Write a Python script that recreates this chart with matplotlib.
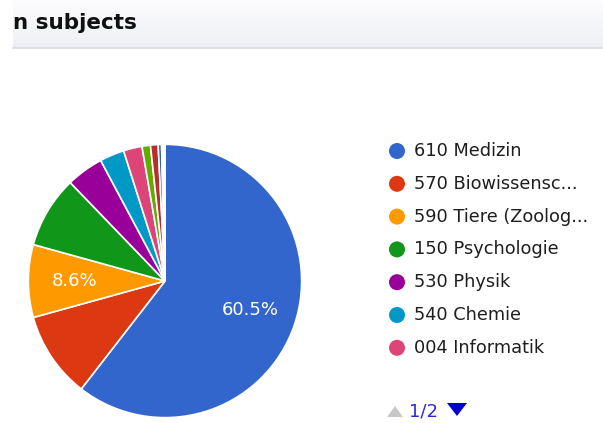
import numpy as np
import matplotlib.pyplot as plt
from matplotlib.colors import LinearSegmentedColormap
from matplotlib.patches import Circle, Polygon

# slice shares in percent (clockwise from 12 o'clock)
shares = [60.5, 10.2, 8.6, 8.5, 4.4, 2.9, 2.2, 1.0, 0.9, 0.4, 0.2, 0.2]
colors = ['#3366cc', '#dc3912', '#ff9900', '#109618', '#990099', '#0099c6',
          '#dd4477', '#66aa00', '#b82e2e', '#316395', '#994499', '#22aa99']
legend_labels = ['610 Medizin', '570 Biowissensc...', '590 Tiere (Zoolog...',
                 '150 Psychologie', '530 Physik', '540 Chemie', '004 Informatik']
shown_pct = [0, 2]  # slices that get a percent label

W, H = 603, 423
fig = plt.figure(figsize=(W / 100, H / 100), dpi=100)
fig.patch.set_facecolor('white')

# overlay axes in pixel coords (y down)
bg = fig.add_axes([0, 0, 1, 1])
bg.set_xlim(0, W)
bg.set_ylim(H, 0)
bg.axis('off')

# header band
grad = np.linspace(0, 1, 50).reshape(-1, 1)
bg.imshow(grad, extent=(13, W, 48, 0), aspect='auto', zorder=0,
          cmap=LinearSegmentedColormap.from_list('hdr', ['#fcfcfe', '#eef0f5']))
bg.plot([13, W], [48.5, 48.5], color='#d8d9e3', lw=1.2)
bg.text(13, 23, 'n subjects', fontsize=15.5, fontweight='bold', va='center', ha='left', color='#111111')

# legend
for i, lab in enumerate(legend_labels):
    y = 151 + i * 32.8
    bg.add_patch(Circle((397, y), 8, color=colors[i], lw=0))
    bg.text(414, y, lab, fontsize=12.8, va='center', ha='left', color='#1e1e1e')

# pager
bg.add_patch(Polygon([(387, 417), (403, 417), (395, 406)], closed=True, color='#c8c8c8', lw=0))
bg.text(409, 412, '1/2', fontsize=13, va='center', ha='left', color='#2a2ad0')
bg.add_patch(Polygon([(447, 403), (467, 403), (457, 416)], closed=True, color='#0000cc', lw=0))

# pie
cx, cy, r = 165, 281, 138
ax = fig.add_axes([(cx - r) / W, (H - cy - r) / H, 2 * r / W, 2 * r / H])
wedges, _ = ax.pie(shares, colors=colors, startangle=90, counterclock=False,
                   wedgeprops=dict(edgecolor='white', linewidth=1.2))
for i in shown_pct:
    w = wedges[i]
    ang = np.deg2rad((w.theta1 + w.theta2) / 2)
    ax.text(0.66 * np.cos(ang), 0.66 * np.sin(ang), f'{shares[i]:.1f}%',
            color='white', fontsize=13, ha='center', va='center')
ax.set_xlim(-1.01, 1.01)
ax.set_ylim(-1.01, 1.01)
ax.set_aspect('equal')

fig.savefig('out.png', dpi=100)
